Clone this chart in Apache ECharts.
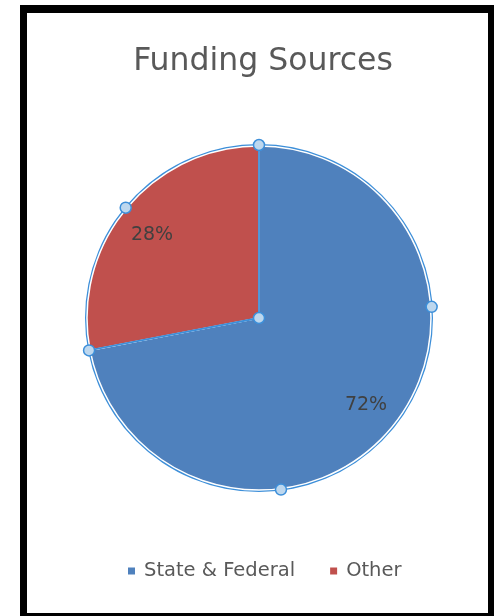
<!DOCTYPE html>
<html>
<head>
<meta charset="utf-8">
<script src="https://cdn.jsdelivr.net/npm/echarts@6/dist/echarts.min.js"></script>
<style>
  html, body { margin: 0; padding: 0; background: #ffffff; }
  #chart { position: absolute; left: 0; top: 0; width: 494px; height: 616px; }
  #frame { position: absolute; left: 20px; top: 5px; width: 461px; height: 600px;
           border-style: solid; border-color: #000; border-width: 8px 6px 3px 7px; pointer-events: none; }
</style>
</head>
<body>
<div id="chart"></div>
<div id="frame"></div>
<script>
const categories = ['State & Federal', 'Other'];
const values = [72, 28];
const colors = ['#4F81BD', '#C0504D'];
const titleText = 'Funding Sources';

const FONT = 'DejaVu Sans';
const CX = 259, CY = 318, R = 172;
const START = 90;
const total = values.reduce((a, b) => a + b, 0);

const seriesData = categories.map((c, i) => ({ name: c, value: values[i], itemStyle: { color: colors[i] } }));

// selection-style decoration (slice boundaries / arc midpoint), derived from the data angles
const boundaryAngles = [];
let acc = START;
values.forEach(v => { boundaryAngles.push(acc); acc -= v / total * 360; });
const lastMid = START + values[values.length - 1] / total * 180;
const pt = (deg, r) => [CX + r * Math.cos(deg * Math.PI / 180), CY - r * Math.sin(deg * Math.PI / 180)];

const graphics = [];
boundaryAngles.forEach(a => {
  const p = pt(a, R);
  graphics.push({ type: 'line', silent: true, z: 10,
    shape: { x1: CX, y1: CY, x2: p[0], y2: p[1] },
    style: { stroke: '#3D8FD9', lineWidth: 1.8 } });
});
const handleAngles = boundaryAngles.concat([lastMid, 3.7, -82.7]);
const handle = (x, y) => ({ type: 'circle', silent: true, z: 20,
  shape: { cx: x, cy: y, r: 5.5 },
  style: { fill: '#BDD7EE', stroke: '#3D8FD9', lineWidth: 1.5 } });
handleAngles.forEach(a => { const p = pt(a, R + 1); graphics.push(handle(p[0], p[1])); });
graphics.push(handle(CX, CY));

const chart = echarts.init(document.getElementById('chart'), null, { renderer: 'canvas' });
chart.setOption({
  animation: false,
  backgroundColor: '#ffffff',
  title: {
    text: titleText, left: 258, textAlign: 'center', top: 41,
    textStyle: { fontFamily: FONT, fontWeight: 'normal', fontSize: 31.5, color: '#595959' }
  },
  legend: {
    data: categories, top: 556, left: 121,
    icon: 'rect', itemWidth: 9, itemHeight: 9, itemGap: 33,
    textStyle: { fontFamily: FONT, fontSize: 19.5, color: '#595959', padding: [0, 0, 0, 3] }
  },
  graphic: graphics,
  series: [
    {
      type: 'pie', center: [CX, CY], radius: [R, R + 2], startAngle: START,
      silent: true, label: { show: false }, labelLine: { show: false },
      data: [{ value: 1, name: '__ring', itemStyle: { color: '#3D8FD9' } }],
      legendHoverLink: false
    },
    {
      type: 'pie', center: [CX, CY], radius: [0, R], startAngle: START, clockwise: true,
      data: seriesData,
      itemStyle: { borderColor: '#ffffff', borderWidth: 1.5 },
      label: { show: false }, labelLine: { show: false }
    },
    {
      type: 'pie', center: [CX, CY], radius: [R * 0.58, R], startAngle: START, clockwise: true,
      silent: true,
      data: categories.map((c, i) => ({ name: c, value: values[i], itemStyle: { color: 'rgba(0,0,0,0)' } })),
      label: { show: true, position: 'inside', formatter: '{d}%', fontFamily: FONT, fontSize: 19, color: '#404040' },
      labelLayout: (params) => (params.dataIndex === 1 ? { dy: 6 } : { dy: -1 }),
      labelLine: { show: false }
    }
  ]
});
</script>
</body>
</html>
